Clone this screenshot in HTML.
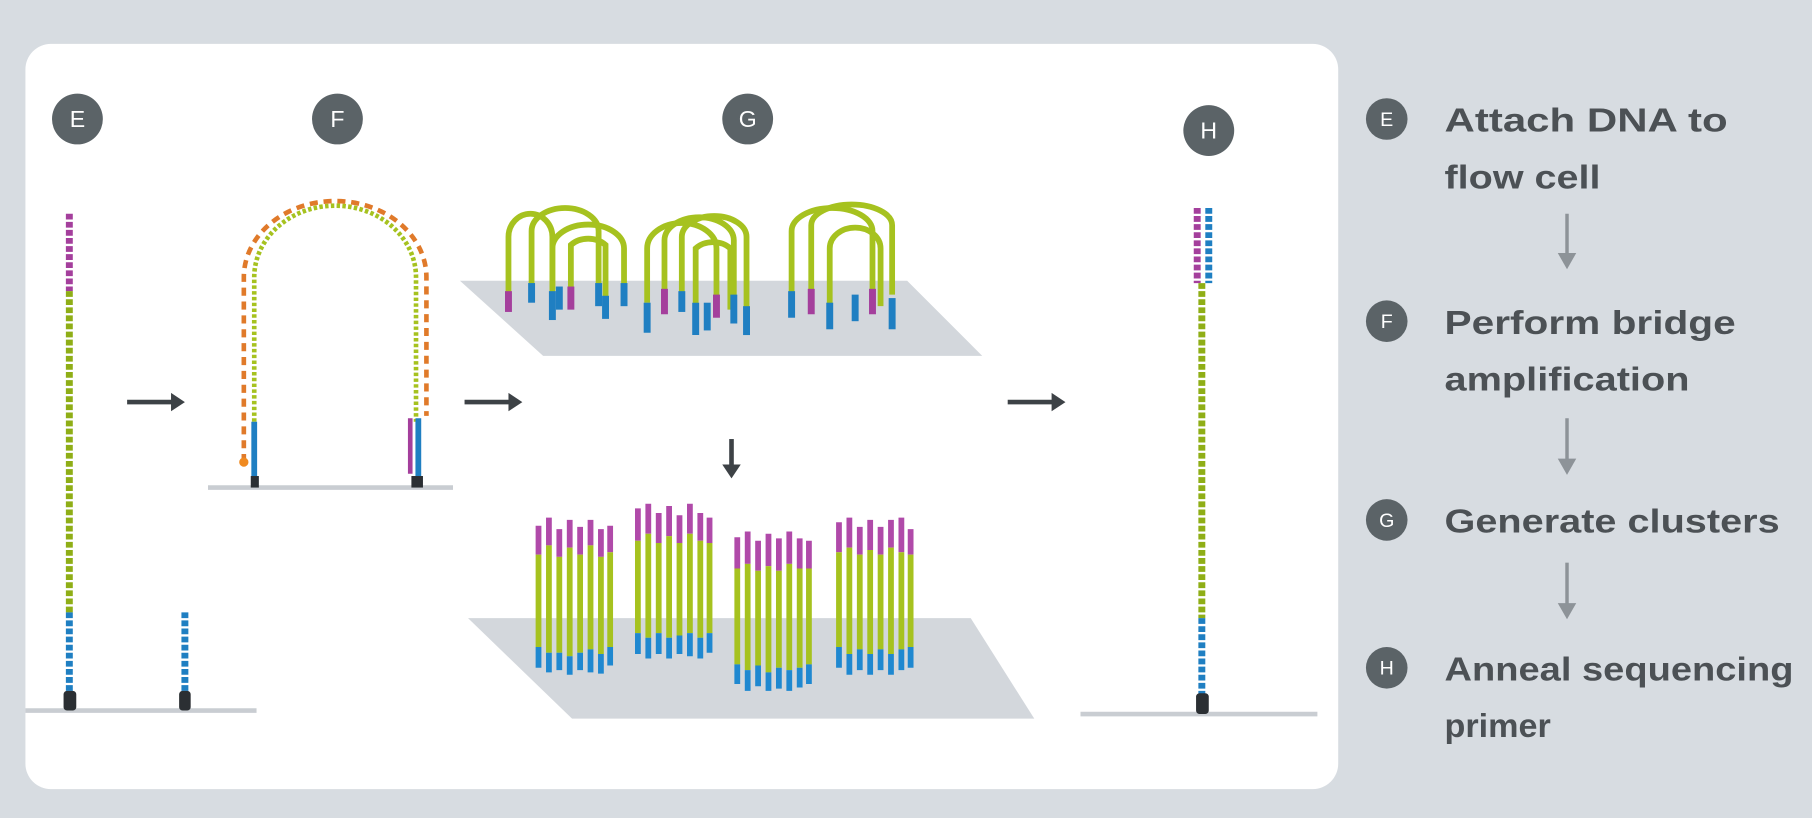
<!DOCTYPE html>
<html><head><meta charset="utf-8"><style>
html,body{margin:0;padding:0;background:#d7dce1;}
svg{display:block;}
</style></head><body>
<svg width="1812" height="818" viewBox="0 0 1568 708" preserveAspectRatio="none" xmlns="http://www.w3.org/2000/svg">
<rect x="0" y="0" width="1568" height="708" fill="#d7dce1"/>
<rect x="22" y="38" width="1136" height="645" rx="22" fill="#ffffff"/>
<g fill="#5b6367">
<circle cx="67" cy="103" r="22"/><circle cx="292" cy="103" r="22"/><circle cx="647" cy="103" r="22"/><circle cx="1046" cy="113" r="22"/>
</g>
<g fill="#fff" font-family="Liberation Sans, sans-serif" font-size="20" text-anchor="middle">
<text x="67" y="110">E</text><text x="292" y="110">F</text><text x="647" y="110">G</text><text x="1046" y="120">H</text>
</g>
<g stroke="#c9cdd2" stroke-width="4">
<line x1="22" y1="615" x2="222" y2="615"/><line x1="180" y1="422" x2="392" y2="422"/><line x1="935" y1="618" x2="1140" y2="618"/>
</g>
<polygon points="398,243 785,243 850,308 470,308" fill="#d3d7dc"/>
<polygon points="405,535 840,535 895,622 495,622" fill="#d3d7dc"/>
<g stroke-width="6" stroke-dasharray="5 2">
<line x1="60" y1="185" x2="60" y2="252" stroke="#a43f9c"/>
<line x1="60" y1="252" x2="60" y2="530" stroke="#8fae16"/>
<line x1="60" y1="530" x2="60" y2="600" stroke="#1f7fc2"/>
<line x1="160" y1="530" x2="160" y2="600" stroke="#1f7fc2"/>
<line x1="1036" y1="180" x2="1036" y2="245" stroke="#a43f9c"/>
<line x1="1046" y1="180" x2="1046" y2="245" stroke="#1f7fc2"/>
<line x1="1040" y1="245" x2="1040" y2="535" stroke="#8fae16"/>
<line x1="1040" y1="535" x2="1040" y2="602" stroke="#1f7fc2"/>
</g>
<g fill="#2b2f33">
<rect x="55" y="598" width="11" height="17" rx="3"/><rect x="155" y="598" width="10" height="17" rx="3"/><rect x="1035" y="600" width="11" height="18" rx="3"/>
<rect x="217" y="412" width="7" height="10"/><rect x="356" y="412" width="10" height="10"/>
</g>
<path d="M220 365 V240 A70 62 0 0 1 360 240 V365" fill="none" stroke="#a6c21f" stroke-width="4" stroke-dasharray="3 2"/>
<path d="M211 400 V240 A79 66 0 0 1 369 240 V360" fill="none" stroke="#e07a2a" stroke-width="4" stroke-dasharray="7 5"/>
<circle cx="211" cy="400" r="4" fill="#f08a20"/>
<line x1="220" y1="365" x2="220" y2="412" stroke="#1f7fc2" stroke-width="5"/>
<line x1="355" y1="362" x2="355" y2="410" stroke="#a43f9c" stroke-width="4"/>
<line x1="362" y1="362" x2="362" y2="412" stroke="#1f7fc2" stroke-width="5"/>
<g stroke="#3d4246" stroke-width="4" fill="none">
<line x1="110" y1="348" x2="152" y2="348"/><line x1="402" y1="348" x2="444" y2="348"/><line x1="872" y1="348" x2="914" y2="348"/><line x1="633" y1="380" x2="633" y2="405"/>
</g>
<g fill="#3d4246">
<polygon points="160,348 148,340 148,356"/><polygon points="452,348 440,340 440,356"/><polygon points="922,348 910,340 910,356"/><polygon points="633,414 625,402 641,402"/>
</g>
<g stroke="#8d9398" stroke-width="3" fill="none">
<line x1="1356" y1="185" x2="1356" y2="222"/><line x1="1356" y1="362" x2="1356" y2="400"/><line x1="1356" y1="487" x2="1356" y2="525"/>
</g>
<g fill="#8d9398"><polygon points="1356,233 1348,219 1364,219"/><polygon points="1356,411 1348,397 1364,397"/><polygon points="1356,536 1348,522 1364,522"/></g>
<g fill="none" stroke="#a6c21f" stroke-width="5">
<path d="M440 258 V205 A19 20 0 0 1 478 205 V250"/>
<path d="M460 250 V200 A29 20 0 0 1 518 200 V250"/>
<path d="M478 262 V215 A30 20 0 0 1 540 215 V250"/>
<path d="M494 255 V212 A20 16 0 0 1 524 212 V260"/>
<path d="M560 262 V215 A30 22 0 0 1 620 215 V260"/>
<path d="M575 252 V208 A30 20 0 0 1 635 208 V262"/>
<path d="M590 258 V205 A28 18 0 0 1 646 205 V270"/>
<path d="M602 265 V215 A20 16 0 0 1 632 215 V268"/>
<path d="M685 258 V200 A35 20 0 0 1 755 200 V262"/>
<path d="M702 255 V195 A35 18 0 0 1 772 195 V255"/>
<path d="M718 265 V215 A22 18 0 0 1 762 215 V265"/>
</g>
<g stroke-width="6">
<line x1="440" y1="252" x2="440" y2="270" stroke="#a43f9c"/><line x1="460" y1="245" x2="460" y2="262" stroke="#1f7fc2"/>
<line x1="478" y1="252" x2="478" y2="277" stroke="#1f7fc2"/><line x1="484" y1="248" x2="484" y2="268" stroke="#1f7fc2"/>
<line x1="494" y1="248" x2="494" y2="268" stroke="#a43f9c"/><line x1="518" y1="245" x2="518" y2="265" stroke="#1f7fc2"/>
<line x1="524" y1="256" x2="524" y2="276" stroke="#1f7fc2"/><line x1="540" y1="245" x2="540" y2="265" stroke="#1f7fc2"/>
<line x1="560" y1="262" x2="560" y2="288" stroke="#1f7fc2"/><line x1="575" y1="250" x2="575" y2="272" stroke="#a43f9c"/>
<line x1="590" y1="252" x2="590" y2="270" stroke="#1f7fc2"/><line x1="602" y1="262" x2="602" y2="290" stroke="#1f7fc2"/>
<line x1="612" y1="262" x2="612" y2="286" stroke="#1f7fc2"/><line x1="620" y1="255" x2="620" y2="275" stroke="#a43f9c"/>
<line x1="635" y1="255" x2="635" y2="280" stroke="#1f7fc2"/><line x1="646" y1="265" x2="646" y2="290" stroke="#1f7fc2"/>
<line x1="685" y1="252" x2="685" y2="275" stroke="#1f7fc2"/><line x1="702" y1="250" x2="702" y2="272" stroke="#a43f9c"/>
<line x1="718" y1="262" x2="718" y2="285" stroke="#1f7fc2"/><line x1="740" y1="255" x2="740" y2="278" stroke="#1f7fc2"/>
<line x1="755" y1="250" x2="755" y2="272" stroke="#a43f9c"/><line x1="772" y1="258" x2="772" y2="285" stroke="#1f7fc2"/>
</g>
<g stroke-width="5">
<g transform="translate(466,0)">
<path d="M0 455V480M9 448V472M18 458V482M27 450V474M36 456V480M45 450V472M54 458V482M62 455V478" stroke="#b04aa9"/>
<path d="M0 480V560M9 472V565M18 482V565M27 474V568M36 480V565M45 472V562M54 482V566M62 478V560" stroke="#a6c21f"/>
<path d="M0 560V578M9 565V582M18 565V580M27 568V584M36 565V580M45 562V582M54 566V583M62 560V576" stroke="#1f88d0"/>
</g>
<g transform="translate(552,0)">
<path d="M0 440V468M9 436V462M18 444V470M27 438V464M36 446V470M45 436V462M54 444V468M62 448V470" stroke="#b04aa9"/>
<path d="M0 468V548M9 462V552M18 470V548M27 464V552M36 470V550M45 462V548M54 468V552M62 470V548" stroke="#a6c21f"/>
<path d="M0 548V566M9 552V570M18 548V566M27 552V570M36 550V566M45 548V568M54 552V570M62 548V565" stroke="#1f88d0"/>
</g>
<g transform="translate(638,0)">
<path d="M0 465V492M9 460V488M18 468V494M27 462V490M36 466V494M45 460V488M54 466V492M62 468V492" stroke="#b04aa9"/>
<path d="M0 492V575M9 488V580M18 494V576M27 490V582M36 494V578M45 488V580M54 492V578M62 492V575" stroke="#a6c21f"/>
<path d="M0 575V592M9 580V598M18 576V594M27 582V598M36 578V596M45 580V598M54 578V595M62 575V592" stroke="#1f88d0"/>
</g>
<g transform="translate(726,0)">
<path d="M0 452V478M9 448V474M18 456V480M27 450V476M36 456V480M45 450V474M54 448V478M62 458V480" stroke="#b04aa9"/>
<path d="M0 478V560M9 474V566M18 480V562M27 476V566M36 480V562M45 474V566M54 478V562M62 480V560" stroke="#a6c21f"/>
<path d="M0 560V578M9 566V584M18 562V580M27 566V584M36 562V580M45 566V584M54 562V580M62 560V578" stroke="#1f88d0"/>
</g>
</g>
<g fill="#5b6367">
<circle cx="1200" cy="103" r="18"/><circle cx="1200" cy="278" r="18"/><circle cx="1200" cy="450" r="18"/><circle cx="1200" cy="578" r="18"/>
</g>
<g fill="#fff" font-family="Liberation Sans, sans-serif" font-size="17" text-anchor="middle">
<text x="1200" y="109">E</text><text x="1200" y="284">F</text><text x="1200" y="456">G</text><text x="1200" y="584">H</text>
</g>
<g fill="#4c5155" font-family="Liberation Sans, sans-serif" font-size="29" font-weight="bold">
<text x="1250" y="114" textLength="245" lengthAdjust="spacingAndGlyphs">Attach DNA to</text>
<text x="1250" y="163" textLength="135" lengthAdjust="spacingAndGlyphs">flow cell</text>
<text x="1250" y="289" textLength="252" lengthAdjust="spacingAndGlyphs">Perform bridge</text>
<text x="1250" y="338" textLength="212" lengthAdjust="spacingAndGlyphs">amplification</text>
<text x="1250" y="461" textLength="290" lengthAdjust="spacingAndGlyphs">Generate clusters</text>
<text x="1250" y="589" textLength="302" lengthAdjust="spacingAndGlyphs">Anneal sequencing</text>
<text x="1250" y="638" textLength="92" lengthAdjust="spacingAndGlyphs">primer</text>
</g>
</svg>
</body></html>
